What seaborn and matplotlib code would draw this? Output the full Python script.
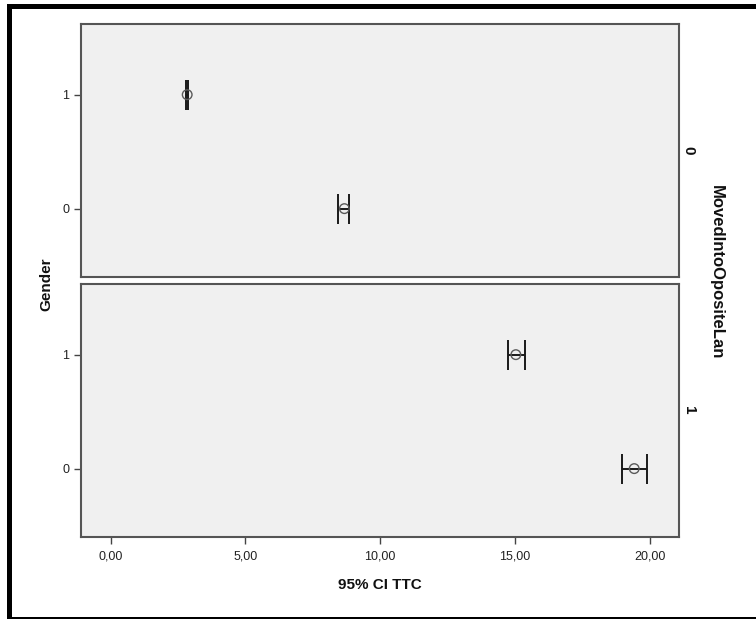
import numpy as np
import pandas as pd
import matplotlib
matplotlib.use('Agg')
import matplotlib.pyplot as plt
from matplotlib.patches import Rectangle
import seaborn as sns

# CI of TTC per gender, split by MovedIntoOpositeLan
moved = [0, 0, 1, 1]
gender = [1, 0, 1, 0]
ttc_mean = [2.84, 8.67, 15.03, 19.42]
ci_low = [2.81, 8.45, 14.73, 18.97]
ci_high = [2.87, 8.86, 15.37, 19.90]
xtick_vals = [0, 5, 10, 15, 20]
xtick_labels = ['0,00', '5,00', '10,00', '15,00', '20,00']

dat = pd.DataFrame({'MovedIntoOpositeLan': moved, 'Gender': gender,
                    'TTC': ttc_mean, 'lo': ci_low, 'hi': ci_high})

sns.set_style('white')
plt.rcParams['font.family'] = ['Liberation Sans', 'DejaVu Sans']


def ci_bars(data, **kws):
    ax = plt.gca()
    ax.errorbar(data.TTC, data.Gender,
                xerr=[data.TTC - data.lo, data.hi - data.TTC],
                fmt='none', ecolor='#1a1a1a', elinewidth=1.4,
                capsize=10.5, capthick=1.4, zorder=2)
    sns.scatterplot(x='TTC', y='Gender', data=data, ax=ax, marker='o', s=48,
                    facecolors='none', edgecolor='#5a5a5a', linewidth=1.0,
                    zorder=3)


g = sns.FacetGrid(dat, row='MovedIntoOpositeLan', row_order=[0, 1],
                  sharex=True, sharey=True, height=3, aspect=2)
g.map_dataframe(ci_bars)
g.set_titles(row_template='', col_template='')
fig = g.figure
fig.set_size_inches(7.56, 6.19)
fig.patch.set_facecolor('white')

axes = g.axes.flatten()
pos = [[0.1071, 0.5525, 0.791, 0.4087], [0.1071, 0.1325, 0.791, 0.4087]]
strip_y = [0.757, 0.337]
for i, ax in enumerate(axes):
    ax.set_position(pos[i])
    ax.set_facecolor('#f0f0f0')
    ax.set_xlim(-1.1, 21.08)
    ax.set_ylim(-0.6, 1.62)
    ax.set_yticks([0, 1])
    ax.set_yticklabels(['0', '1'])
    ax.set_xticks(xtick_vals)
    ax.set_xticklabels(xtick_labels)
    ax.set_xlabel('')
    ax.set_ylabel('')
    for s in ax.spines.values():
        s.set_visible(True)
        s.set_color('#555555')
        s.set_linewidth(1.5)
    ax.tick_params(axis='y', direction='out', length=5, width=1, color='#444444',
                   labelsize=9, labelcolor='#222222', left=True)
    if i == 0:
        ax.tick_params(axis='x', bottom=False, labelbottom=False)
    else:
        ax.tick_params(axis='x', direction='out', length=5, width=1,
                       color='#444444', labelsize=9, labelcolor='#222222',
                       bottom=True, pad=5)
    fig.text(0.911, strip_y[i], str(i), rotation=270, ha='center', va='center',
             fontsize=11, fontweight='bold', color='#111111')

fig.text(0.948, 0.56, 'MovedIntoOpositeLan', rotation=270, ha='center',
         va='center', fontsize=12, fontweight='bold', color='#111111')
fig.text(0.062, 0.54, 'Gender', rotation=90, ha='center', va='center',
         fontsize=11, fontweight='bold', color='#111111')
fig.text(0.503, 0.055, '95% CI TTC', ha='center', va='center',
         fontsize=11, fontweight='bold', color='#111111')

# outer frame of the chart window
fig.add_artist(Rectangle((7 / 756, 1 - 9 / 619), 1 - 7 / 756, 5 / 619,
                         transform=fig.transFigure, color='black', lw=0))
fig.add_artist(Rectangle((7 / 756, 0), 5 / 756, 1 - 4 / 619,
                         transform=fig.transFigure, color='black', lw=0))
fig.add_artist(Rectangle((7 / 756, 0), 1 - 7 / 756, 2 / 619,
                         transform=fig.transFigure, color='black', lw=0))

fig.savefig('out.png', dpi=100)
